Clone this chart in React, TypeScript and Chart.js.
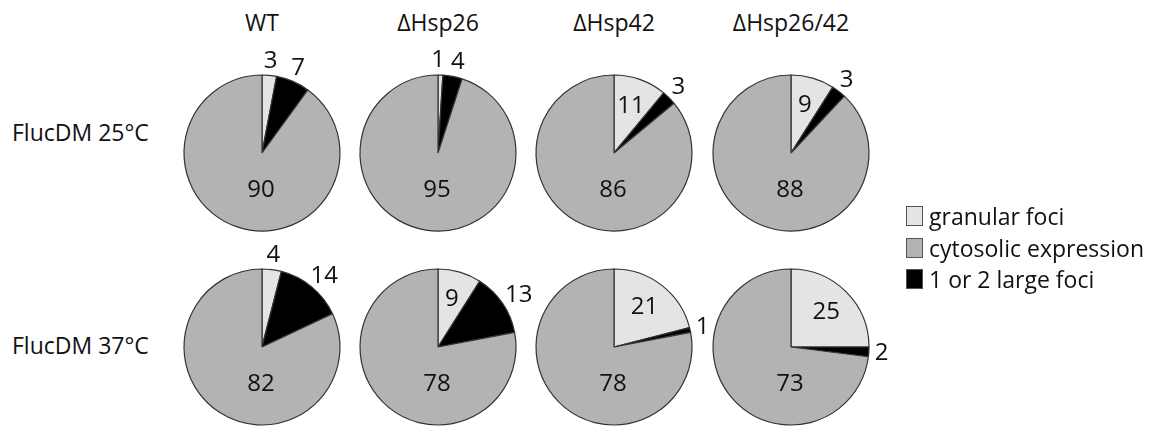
import React, { useEffect, useRef } from "react";
import { Chart, registerables } from "chart.js";

Chart.register(...registerables);

// Strains (columns) and growth conditions (rows)
const strains = ["WT", "\u0394Hsp26", "\u0394Hsp42", "\u0394Hsp26/42"];
const conditions = ["FlucDM 25\u00b0C", "FlucDM 37\u00b0C"];

// Phenotype classes, in the order slices run clockwise from 12 o'clock
const classes = ["granular foci", "1 or 2 large foci", "cytosolic expression"];
const classColors = ["#e4e4e4", "#000000", "#b3b3b3"];

// Legend order
const legendOrder = [0, 2, 1];

// Percent of cells per class, one entry per strain
const granular25 = [3, 1, 11, 9];
const large25 = [7, 4, 3, 3];
const cytosolic25 = [90, 95, 86, 88];

const granular37 = [4, 9, 21, 25];
const large37 = [14, 13, 1, 2];
const cytosolic37 = [82, 78, 78, 73];

const rowsData = [
  [granular25, large25, cytosolic25],
  [granular37, large37, cytosolic37],
];

const FONT = '"Open Sans", sans-serif';
const RADIUS = 78;
const CANVAS = 240;
const colX = [262, 438, 614, 791];
const rowY = [153, 347];
const rowLabelY = [132, 345];

// Draws each slice's percentage: cytosolic below the centre, the other
// classes inside their slice when wide enough, otherwise just outside the rim
// (pushed apart horizontally when two outside labels would touch).
const sliceLabels = {
  id: "sliceLabels",
  afterDatasetsDraw(chart: any) {
    const ctx = chart.ctx;
    const meta = chart.getDatasetMeta(0);
    const values = chart.data.datasets[0].data as number[];
    ctx.save();
    ctx.fillStyle = "#111";
    ctx.font = `24px ${FONT}`;
    ctx.textAlign = "center";
    ctx.textBaseline = "middle";
    const halfH = 8.5;
    const labels: { x: number; y: number; w: number; text: string; outside: boolean }[] = [];
    meta.data.forEach((arc: any, i: number) => {
      const v = values[i];
      const text = String(v);
      const w = ctx.measureText(text).width;
      const r = arc.outerRadius;
      if (i === 2) {
        labels.push({ x: arc.x - 1, y: arc.y + r * 0.48, w, text, outside: false });
        return;
      }
      const mid = (arc.startAngle + arc.endAngle) / 2;
      const c = Math.cos(mid);
      const s = Math.sin(mid);
      if (i === 0 && v >= 9) {
        const d = r * 0.64;
        labels.push({ x: arc.x + c * d, y: arc.y + s * d, w, text, outside: false });
      } else {
        const d = r + 6;
        labels.push({
          x: arc.x + c * d + c * (w / 2),
          y: arc.y + s * d + s * halfH,
          w,
          text,
          outside: true,
        });
      }
    });
    const a = labels[0];
    const b = labels[1];
    if (a.outside && b.outside) {
      const need = (a.w + b.w) / 2 + 6;
      const gap = b.x - a.x;
      if (Math.abs(a.y - b.y) < 2 * halfH && gap < need) {
        const shift = (need - gap) / 2;
        a.x -= shift;
        b.x += shift;
      }
    }
    labels.forEach((l) => ctx.fillText(l.text, l.x, l.y));
    ctx.restore();
  },
};

function Pie({ values }: { values: number[] }) {
  const ref = useRef<HTMLCanvasElement>(null);
  useEffect(() => {
    const chart = new Chart(ref.current!, {
      type: "pie",
      data: {
        labels: classes,
        datasets: [
          {
            data: values,
            backgroundColor: classColors,
            borderColor: "#333",
            borderWidth: 1.2,
          },
        ],
      },
      options: {
        animation: false,
        responsive: false,
        radius: RADIUS,
        layout: { padding: 0 },
        plugins: { legend: { display: false }, tooltip: { enabled: false } },
        events: [],
      } as any,
      plugins: [sliceLabels],
    });
    return () => chart.destroy();
  }, [values]);
  return <canvas ref={ref} width={CANVAS} height={CANVAS} style={{ width: CANVAS, height: CANVAS }} />;
}

export default function App() {
  return (
    <div
      style={{
        position: "absolute",
        left: 0,
        top: 0,
        width: 1156,
        height: 426,
        background: "#fff",
        overflow: "hidden",
        fontFamily: FONT,
        color: "#111",
      }}
    >
      {strains.map((s, c) => (
        <div
          key={s}
          style={{
            position: "absolute",
            left: colX[c] - 80,
            width: 160,
            top: 7,
            textAlign: "center",
            fontSize: 23,
            lineHeight: "30px",
          }}
        >
          {s}
        </div>
      ))}
      {conditions.map((cond, r) => (
        <div
          key={cond}
          style={{
            position: "absolute",
            left: 12,
            top: rowLabelY[r] - 15,
            fontSize: 23,
            lineHeight: "30px",
            whiteSpace: "nowrap",
          }}
        >
          {cond}
        </div>
      ))}
      {rowsData.map((series, r) =>
        strains.map((s, c) => (
          <div
            key={`${r}-${c}`}
            style={{ position: "absolute", left: colX[c] - CANVAS / 2, top: rowY[r] - CANVAS / 2 }}
          >
            <Pie values={[series[0][c], series[1][c], series[2][c]]} />
          </div>
        ))
      )}
      {legendOrder.map((k, i) => (
        <div
          key={classes[k]}
          style={{
            position: "absolute",
            left: 906,
            top: 201 + i * 31.5,
            display: "flex",
            alignItems: "center",
            fontSize: 23,
            lineHeight: "30px",
            whiteSpace: "nowrap",
          }}
        >
          <span
            style={{
              display: "inline-block",
              width: 15,
              height: 18,
              background: classColors[k],
              border: "1px solid #555",
              marginRight: 6,
            }}
          />
          {classes[k]}
        </div>
      ))}
    </div>
  );
}
